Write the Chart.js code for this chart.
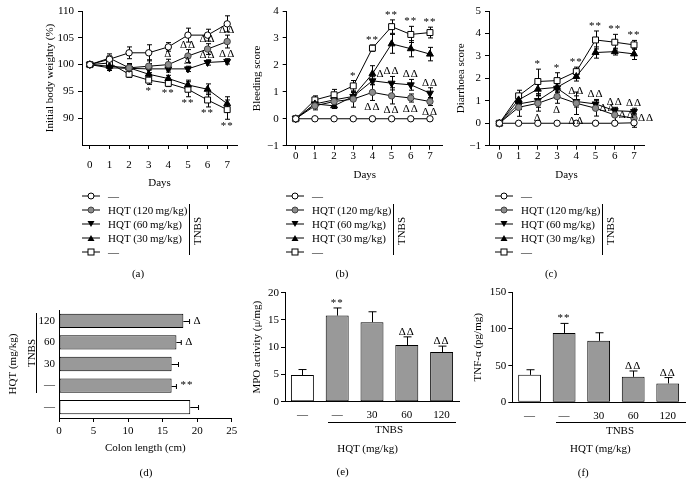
<!DOCTYPE html>
<html>
<head>
<meta charset="utf-8">
<script src="https://cdn.jsdelivr.net/npm/chart.js@4.4.0/dist/chart.umd.min.js"></script>
<style>
body{margin:0;background:#fff;}
#page{position:relative;width:694px;height:481px;overflow:hidden;font-family:"Liberation Serif",serif;font-size:11px;color:#000;}
canvas{position:absolute;left:0;top:0;}
.t{position:absolute;white-space:nowrap;transform:translate(-50%,-50%);line-height:13px;}
.rot{transform:translate(-50%,-50%) rotate(-90deg);}
.vl{position:absolute;width:0;border-left:1px solid #000;}
.hl{position:absolute;height:0;border-top:1px solid #000;}
.leg{position:absolute;}
.row{position:absolute;left:0;height:14px;display:flex;align-items:center;white-space:nowrap;}
.row svg{margin-right:8px;}
</style>
</head>
<body>
<div id="page">
  <canvas id="ca" width="694" height="481"></canvas>
  <canvas id="cb" width="694" height="481"></canvas>
  <canvas id="cc" width="694" height="481"></canvas>
  <canvas id="cd" width="694" height="481"></canvas>
  <canvas id="ce" width="694" height="481"></canvas>
  <canvas id="cf" width="694" height="481"></canvas>
</div>
<script>
// ---- data ----
var days=[0,1,2,3,4,5,6,7];
var groupNames=['\u2014','HQT (120\u2009mg/kg)','HQT (60\u2009mg/kg)','HQT (30\u2009mg/kg)','\u2014'];

// (a) body weight, % of initial
var bwNormal=[100,101.0,102.2,102.2,103.3,105.5,105.5,107.6];
var bwHqt120=[100,101.2,99.4,99.7,100.0,101.6,102.9,104.3];
var bwHqt60=[100,99.4,99.3,99.2,99.2,99.2,100.4,100.6];
var bwHqt30=[100,99.7,99.4,98.2,97.4,96.2,95.4,92.7];
var bwTnbs=[100,100.3,98.2,97.1,96.5,95.4,93.4,91.6];
var bwNormalErr=[0,0.6,1.1,1.5,0.8,1.3,1.1,1.5];
var bwHqt120Err=[0,0.8,0.8,1.2,1.0,1.2,1.0,1.2];
var bwHqt60Err=[0,0.5,0.8,1.0,0.6,0.5,0.5,0.5];
var bwHqt30Err=[0,0.5,0.6,0.8,0.6,0.9,1.0,1.3];
var bwTnbsErr=[0,0.6,0.6,0.8,0.6,1.4,1.3,1.8];

// (b) bleeding score
var blNormal=[0,0,0,0,0,0,0,0];
var blHqt120=[0,0.48,0.64,0.73,0.98,0.85,0.77,0.64];
var blHqt60=[0,0.55,0.70,0.83,1.41,1.32,1.26,0.95];
var blHqt30=[0,0.55,0.48,0.83,1.67,2.78,2.60,2.40];
var blTnbs=[0,0.70,0.89,1.22,2.62,3.42,3.13,3.20];
var blNormalErr=[0,0,0,0,0,0,0,0];
var blHqt120Err=[0,0.15,0.2,0.3,0.3,0.3,0.15,0.15];
var blHqt60Err=[0,0.15,0.15,0.15,0.15,0.25,0.2,0.2];
var blHqt30Err=[0,0.1,0.1,0.15,0.3,0.35,0.3,0.25];
var blTnbsErr=[0,0.15,0.2,0.2,0.12,0.25,0.3,0.2];

// (c) diarrhoea score
var diNormal=[0,0,0,0,0,0,0,0.02];
var diHqt120=[0,0.71,0.89,1.19,0.89,0.67,0.37,0.22];
var diHqt60=[0,0.86,1.01,1.56,0.97,0.86,0.56,0.52];
var diHqt30=[0,1.04,1.52,1.60,2.08,3.15,3.19,3.09];
var diTnbs=[0,1.22,1.86,1.90,2.30,3.71,3.61,3.49];
var diNormalErr=[0,0,0,0,0,0,0,0.2];
var diHqt120Err=[0,0.4,0.35,0.3,0.5,0.35,0.3,0.2];
var diHqt60Err=[0,0.25,0.3,0.2,0.25,0.2,0.15,0.15];
var diHqt30Err=[0,0.2,0.3,0.2,0.2,0.25,0.15,0.25];
var diTnbsErr=[0,0.25,0.55,0.35,0.2,0.4,0.35,0.2];

// (d) colon length, top to bottom
var colonLabels=['120','60','30','\u2014','\u2014'];
var colonLength=[18.0,17.0,16.3,16.3,19.0];
var colonErr=[0.9,0.7,1.0,0.7,1.2];

// (e), (f) left to right
var doseLabels=['\u2014','\u2014','30','60','120'];
var mpo=[4.9,15.8,14.6,10.4,9.1];
var mpoErr=[1.0,1.4,1.9,1.5,1.1];
var tnf=[37.4,94.6,83.8,34.7,25.7];
var tnfErr=[7,13,11,8,8];

// significance marks: series, day/bar, text, where (a above, b below, r right)
var marksA=[
  {ds:4,i:3,t:'*',at:'b'},{ds:4,i:4,t:'**',at:'b'},{ds:4,i:5,t:'**',at:'b'},{ds:4,i:6,t:'**',at:'b'},{ds:4,i:7,t:'**',at:'b'},
  {ds:1,i:4,t:'\u0394',at:'a'},{ds:1,i:5,t:'\u0394\u0394',at:'a'},{ds:1,i:6,t:'\u0394\u0394',at:'a'},{ds:1,i:7,t:'\u0394\u0394',at:'a'},
  {ds:2,i:5,t:'\u0394',at:'a'},{ds:2,i:6,t:'\u0394\u0394',at:'a'},{ds:2,i:7,t:'\u0394\u0394',at:'a'}
];
var marksB=[
  {ds:4,i:3,t:'*',at:'a'},{ds:4,i:4,t:'**',at:'a'},{ds:4,i:5,t:'**',at:'a'},{ds:4,i:6,t:'**',at:'a'},{ds:4,i:7,t:'**',at:'a'},
  {ds:1,i:4,t:'\u0394\u0394',at:'b'},{ds:1,i:5,t:'\u0394\u0394',at:'b'},{ds:1,i:6,t:'\u0394\u0394',at:'b'},{ds:1,i:7,t:'\u0394\u0394',at:'b'},
  {ds:2,i:5,t:'\u0394\u0394',at:'a'},{ds:2,i:6,t:'\u0394\u0394',at:'a'},{ds:2,i:7,t:'\u0394\u0394',at:'a'},
  {ds:3,i:4,t:'\u0394',at:'r'}
];
var marksC=[
  {ds:4,i:2,t:'*',at:'a'},{ds:4,i:3,t:'*',at:'a'},{ds:4,i:4,t:'**',at:'a'},{ds:4,i:5,t:'**',at:'a'},{ds:4,i:6,t:'**',at:'a'},{ds:4,i:7,t:'**',at:'a'},
  {ds:1,i:2,t:'\u0394',at:'b'},{ds:1,i:3,t:'\u0394',at:'b'},{ds:1,i:4,t:'\u0394\u0394',at:'b'},{ds:1,i:5,t:'\u0394\u0394',at:'r'},{ds:1,i:6,t:'\u0394\u0394',at:'r'},{ds:1,i:7,t:'\u0394\u0394',at:'r'},
  {ds:2,i:4,t:'\u0394\u0394',at:'a'},{ds:2,i:5,t:'\u0394\u0394',at:'a'},{ds:2,i:6,t:'\u0394\u0394',at:'a'},{ds:2,i:7,t:'\u0394\u0394',at:'a'}
];
var marksD=[{ds:0,i:0,t:'\u0394',at:'r'},{ds:0,i:1,t:'\u0394',at:'r'},{ds:0,i:3,t:'**',at:'r'}];
var marksE=[{ds:0,i:1,t:'**',at:'a'},{ds:0,i:3,t:'\u0394\u0394',at:'a'},{ds:0,i:4,t:'\u0394\u0394',at:'a'}];
var marksF=[{ds:0,i:1,t:'**',at:'a'},{ds:0,i:3,t:'\u0394\u0394',at:'a'},{ds:0,i:4,t:'\u0394\u0394',at:'a'}];

var GRAY='#999999';
var markers=[
  {style:'circle',r:3.2,bg:'#ffffff',bd:'#000',rot:0},
  {style:'circle',r:3.2,bg:'#8c8c8c',bd:'#444',rot:0},
  {style:'triangle',r:4,bg:'#000',bd:'#000',rot:180},
  {style:'triangle',r:4,bg:'#000',bd:'#000',rot:0},
  {style:'rect',r:4.2,bg:'#ffffff',bd:'#000',rot:0}
];

Chart.defaults.font.family='"Liberation Serif", serif';
Chart.defaults.font.size=11;
Chart.defaults.color='#000';

// ---- error bars + significance marks ----
function errExtent(chart,di,i,opts){
  var ds=chart.data.datasets[di];
  var meta=chart.getDatasetMeta(di);
  var p=meta._parsed[i];
  var vs=opts.horizontal?chart.scales.x:chart.scales.y;
  var v=opts.horizontal?p.x:p.y;
  var e=ds.err?ds.err[i]:0;
  return {el:meta.data[i],hi:vs.getPixelForValue(v+e),lo:vs.getPixelForValue(opts.both?v-e:v)};
}

function drawErrors(chart,opts){
  var ctx=chart.ctx;
  ctx.save();
  ctx.strokeStyle='#000';
  ctx.lineWidth=1;
  chart.data.datasets.forEach(function(ds,di){
    if(!ds.err) return;
    ds.err.forEach(function(e,i){
      if(!e) return;
      var r=errExtent(chart,di,i,opts);
      var c=opts.cap/2;
      ctx.beginPath();
      if(opts.horizontal){
        var y=Math.round(r.el.y)+0.5;
        ctx.moveTo(r.lo,y);ctx.lineTo(r.hi,y);
        ctx.moveTo(r.hi,y-c);ctx.lineTo(r.hi,y+c);
      }else{
        var x=Math.round(r.el.x)+0.5;
        ctx.moveTo(x,r.lo);ctx.lineTo(x,r.hi);
        ctx.moveTo(x-c,r.hi);ctx.lineTo(x+c,r.hi);
        if(opts.both){ctx.moveTo(x-c,r.lo);ctx.lineTo(x+c,r.lo);}
      }
      ctx.stroke();
    });
  });
  ctx.restore();
}

function drawMarks(chart,marks,opts){
  var ctx=chart.ctx;
  ctx.save();
  ctx.fillStyle='#000';
  ctx.font='11px "Liberation Serif", serif';
  ctx.letterSpacing='1px';
  marks.forEach(function(m){
    var r=errExtent(chart,m.ds,m.i,opts);
    var x=r.el.x,y=r.el.y;
    if(m.at==='a'){
      ctx.textAlign='center';ctx.textBaseline='alphabetic';
      ctx.fillText(m.t,x,Math.min(r.hi,r.lo)-2);
    }else if(m.at==='b'){
      ctx.textAlign='center';ctx.textBaseline='alphabetic';
      ctx.fillText(m.t,x,Math.max(r.hi,r.lo)+9.5);
    }else{
      ctx.textAlign='left';ctx.textBaseline='middle';
      ctx.fillText(m.t,(opts.horizontal?r.hi:x)+4,y);
    }
  });
  ctx.restore();
}

function errPlugin(marks,opts){
  return {
    id:'errMarks',
    beforeDatasetsDraw:function(chart){ if(opts.under) drawErrors(chart,opts); },
    afterDatasetsDraw:function(chart){ if(!opts.under) drawErrors(chart,opts); drawMarks(chart,marks,opts); }
  };
}

// ---- axes ----
function fitW(w){ return function(s){ s.width=w; s.paddingTop=0; s.paddingBottom=0; }; }
function fitH(h){ return function(s){ s.height=h; s.paddingLeft=0; s.paddingRight=0; }; }
function minusSign(v){ return v<0 ? '\u2212'+(-v) : String(v); }
function catLabel(v){ return this.getLabelForValue(v); }

function axis(o){
  var ticks={color:'#000',padding:o.pad,autoSkip:false,maxRotation:0,font:{size:11}};
  if(o.step) ticks.stepSize=o.step;
  ticks.callback=o.type==='category'?catLabel:minusSign;
  var a={
    type:o.type||'linear',
    offset:!!o.offset,
    border:{display:true,color:'#000',width:1},
    grid:{display:true,drawOnChartArea:false,drawTicks:o.tick!==0,tickLength:o.tick||4,color:'#000',lineWidth:1},
    ticks:ticks,
    title:o.title?{display:true,text:o.title,color:'#000',padding:0,font:{size:11}}:{display:false}
  };
  if(o.min!==undefined) a.min=o.min;
  if(o.max!==undefined) a.max=o.max;
  if(o.build) a.afterBuildTicks=o.build;
  if(o.fit) a.afterFit=o.fit;
  return a;
}

function pad(b){
  return {left:b.padL,top:b.top,right:694-b.right,bottom:481-b.bottom-b.xH};
}

function lineChart(id,series,errs,box,xr,yo,marks){
  var datasets=series.map(function(arr,k){
    var m=markers[k];
    return {
      data:days.map(function(d,i){ return {x:d,y:arr[i]}; }),
      err:errs[k],
      borderColor:'#000',borderWidth:1,
      pointStyle:m.style,pointRadius:m.r,pointRotation:m.rot,
      pointBackgroundColor:m.bg,pointBorderColor:m.bd,pointBorderWidth:1,
      fill:false,tension:0
    };
  });
  new Chart(document.getElementById(id),{
    type:'line',
    data:{datasets:datasets},
    options:{
      responsive:false,animation:false,
      layout:{padding:pad(box)},
      plugins:{legend:{display:false},tooltip:{enabled:false},title:{display:false}},
      scales:{
        x:axis({min:xr[0],max:xr[1],pad:box.xPad,title:'Days',fit:fitH(box.xH),
          build:function(s){ s.ticks=days.map(function(d){ return {value:d}; }); }}),
        y:axis({min:yo.min,max:yo.max,step:yo.step,pad:4,title:yo.title,fit:fitW(box.yW),build:yo.build})
      }
    },
    plugins:[errPlugin(marks,{under:true,both:true,cap:5})]
  });
}

function barChart(id,labels,vals,errs,colors,box,xo,yo,marks,horizontal){
  new Chart(document.getElementById(id),{
    type:'bar',
    data:{labels:labels,datasets:[{
      data:vals,err:errs,
      backgroundColor:colors,borderColor:'#000',borderWidth:1,borderSkipped:false,
      barPercentage:0.66,categoryPercentage:1
    }]},
    options:{
      indexAxis:horizontal?'y':'x',
      responsive:false,animation:false,
      layout:{padding:pad(box)},
      plugins:{legend:{display:false},tooltip:{enabled:false},title:{display:false}},
      scales:{x:axis(xo),y:axis(yo)}
    },
    plugins:[errPlugin(marks,{under:false,both:false,cap:horizontal?5:8,horizontal:horizontal})]
  });
}

// (a)
lineChart('ca',[bwNormal,bwHqt120,bwHqt60,bwHqt30,bwTnbs],
  [bwNormalErr,bwHqt120Err,bwHqt60Err,bwHqt30Err,bwTnbsErr],
  {padL:44,yW:38,top:11,right:237,bottom:145,xH:44.6,xPad:10},[-0.4,7.5],
  {min:85,max:110,step:5,title:'Initial body weighty (%)',
   build:function(s){ s.ticks=s.ticks.filter(function(t){ return t.value>=90; }); }},marksA);
// (b)
lineChart('cb',[blNormal,blHqt120,blHqt60,blHqt30,blTnbs],
  [blNormalErr,blHqt120Err,blHqt60Err,blHqt30Err,blTnbsErr],
  {padL:250.1,yW:36.6,top:11,right:443,bottom:145.7,xH:35.9,xPad:0},[-0.47,7.68],
  {min:-1,max:4,step:1,title:'Bleeding score'},marksB);
// (c)
lineChart('cc',[diNormal,diHqt120,diHqt60,diHqt30,diTnbs],
  [diNormalErr,diHqt120Err,diHqt60Err,diHqt30Err,diTnbsErr],
  {padL:454.4,yW:34.6,top:11,right:644,bottom:145.7,xH:35.9,xPad:0},[-0.54,7.52],
  {min:-1,max:5,step:1,title:'Diarrhoea score'},marksC);

// (d)
barChart('cd',colonLabels,colonLength,colonErr,[GRAY,GRAY,GRAY,GRAY,'#ffffff'],
  {padL:6.1,top:310,right:231.7,bottom:418,xH:36.3},
  {min:0,max:25,step:5,pad:3,title:'Colon length (cm)',fit:fitH(36.3)},
  {type:'category',offset:true,tick:0,pad:4,title:'HQT (mg/kg)',fit:fitW(52.9)},marksD,true);
// (e)
barChart('ce',doseLabels,mpo,mpoErr,['#ffffff',GRAY,GRAY,GRAY,GRAY],
  {padL:250.7,top:292.7,right:459,bottom:401.7,xH:20},
  {type:'category',offset:true,tick:0,pad:7,fit:fitH(20)},
  {min:0,max:20,step:5,pad:2,title:'MPO activity (\u03bc/mg)',fit:fitW(34.3)},marksE,false);
// (f)
barChart('cf',doseLabels,tnf,tnfErr,['#ffffff',GRAY,GRAY,GRAY,GRAY],
  {padL:471.7,top:292.3,right:685,bottom:402.3,xH:20},
  {type:'category',offset:true,tick:0,pad:7,fit:fitH(20)},
  {min:0,max:150,step:50,pad:2,title:'TNF-\u03b1 (pg/mg)',fit:fitW(40.6)},marksF,false);

// ---- legends, brackets and captions (HTML) ----
var page=document.getElementById('page');
function addText(x,y,txt,rot){
  var d=document.createElement('div');
  d.className='t'+(rot?' rot':'');
  d.style.left=x+'px';d.style.top=y+'px';
  d.textContent=txt;
  page.appendChild(d);
}
function addLine(cls,x,y,len){
  var d=document.createElement('div');
  d.className=cls;
  d.style.left=x+'px';d.style.top=y+'px';
  if(cls==='vl') d.style.height=len+'px'; else d.style.width=len+'px';
  page.appendChild(d);
}
function symbolSvg(k){
  var m=markers[k];
  var s='<svg width="18" height="10" viewBox="0 0 18 10"><line x1="0" y1="5" x2="18" y2="5" stroke="#000" stroke-width="1"/>';
  if(m.style==='circle') s+='<circle cx="9" cy="5" r="3" fill="'+m.bg+'" stroke="'+m.bd+'"/>';
  else if(m.style==='rect') s+='<rect x="6" y="2" width="6" height="6" fill="#fff" stroke="#000"/>';
  else if(m.rot) s+='<polygon points="5.5,2 12.5,2 9,8" fill="#000"/>';
  else s+='<polygon points="5.5,8 12.5,8 9,2" fill="#000"/>';
  return s+'</svg>';
}
function addLegend(left,top){
  var box=document.createElement('div');
  box.className='leg';
  box.style.left=left+'px';box.style.top=top+'px';
  var html='';
  groupNames.forEach(function(name,k){
    html+='<div class="row" style="top:'+(k*14)+'px">'+symbolSvg(k)+'<span>'+name+'</span></div>';
  });
  box.innerHTML=html;
  page.appendChild(box);
  addLine('vl',left+107,top+15.3,51);
  addText(left+115,top+42,'TNBS',true);
}
addLegend(82,188.7);
addLegend(286,188.7);
addLegend(495,188.7);

addText(138,272.7,'(a)');
addText(342,272.7,'(b)');
addText(551,272.7,'(c)');

// (d)
addLine('vl',35.7,313,80);
addText(30.5,352.5,'TNBS',true);
addText(146,472,'(d)');
// (e)
addLine('hl',327.7,421.7,128);
addText(389,429.3,'TNBS');
addText(367.5,448,'HQT (mg/kg)');
addText(342.7,471,'(e)');
// (f)
addLine('hl',555.7,421.7,130);
addText(620,430,'TNBS');
addText(600.3,448,'HQT (mg/kg)');
addText(583.3,471.7,'(f)');
</script>
</body>
</html>
